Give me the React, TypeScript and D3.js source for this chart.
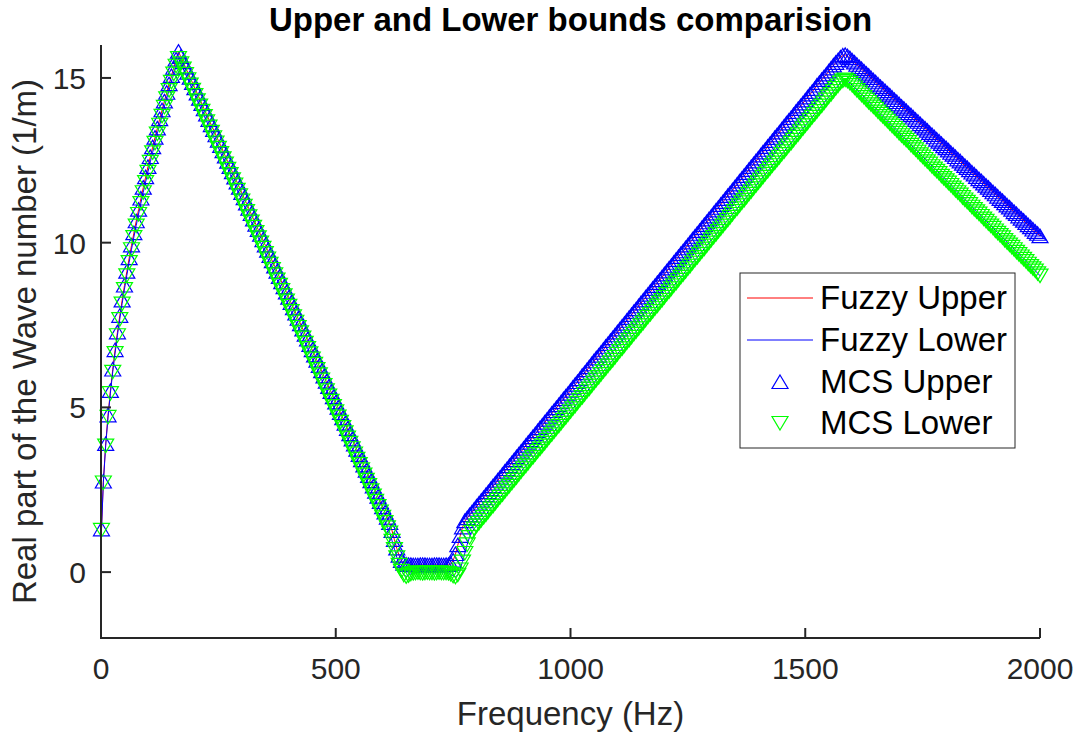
import React from 'react';
import * as d3 from 'd3';

// frequency grid (Hz)
const freqHz = [
  1,
  5, 10, 15, 20, 25, 30, 35, 40, 45, 50, 55, 60, 65, 70, 75, 80, 85, 90, 95, 100,
  105, 110, 115, 120, 125, 130, 135, 140, 145, 150, 155, 160, 165, 170, 175, 180, 185, 190, 195, 200,
  205, 210, 215, 220, 225, 230, 235, 240, 245, 250, 255, 260, 265, 270, 275, 280, 285, 290, 295, 300,
  305, 310, 315, 320, 325, 330, 335, 340, 345, 350, 355, 360, 365, 370, 375, 380, 385, 390, 395, 400,
  405, 410, 415, 420, 425, 430, 435, 440, 445, 450, 455, 460, 465, 470, 475, 480, 485, 490, 495, 500,
  505, 510, 515, 520, 525, 530, 535, 540, 545, 550, 555, 560, 565, 570, 575, 580, 585, 590, 595, 600,
  605, 610, 615, 620, 625, 630, 635, 640, 645, 650, 655, 660, 665, 670, 675, 680, 685, 690, 695, 700,
  705, 710, 715, 720, 725, 730, 735, 740, 745, 750, 755, 760, 765, 770, 775, 780, 785, 790, 795, 800,
  805, 810, 815, 820, 825, 830, 835, 840, 845, 850, 855, 860, 865, 870, 875, 880, 885, 890, 895, 900,
  905, 910, 915, 920, 925, 930, 935, 940, 945, 950, 955, 960, 965, 970, 975, 980, 985, 990, 995, 1000,
  1005, 1010, 1015, 1020, 1025, 1030, 1035, 1040, 1045, 1050, 1055, 1060, 1065, 1070, 1075, 1080, 1085, 1090, 1095, 1100,
  1105, 1110, 1115, 1120, 1125, 1130, 1135, 1140, 1145, 1150, 1155, 1160, 1165, 1170, 1175, 1180, 1185, 1190, 1195, 1200,
  1205, 1210, 1215, 1220, 1225, 1230, 1235, 1240, 1245, 1250, 1255, 1260, 1265, 1270, 1275, 1280, 1285, 1290, 1295, 1300,
  1305, 1310, 1315, 1320, 1325, 1330, 1335, 1340, 1345, 1350, 1355, 1360, 1365, 1370, 1375, 1380, 1385, 1390, 1395, 1400,
  1405, 1410, 1415, 1420, 1425, 1430, 1435, 1440, 1445, 1450, 1455, 1460, 1465, 1470, 1475, 1480, 1485, 1490, 1495, 1500,
  1505, 1510, 1515, 1520, 1525, 1530, 1535, 1540, 1545, 1550, 1555, 1560, 1565, 1570, 1575, 1580, 1585, 1590, 1595, 1600,
  1605, 1610, 1615, 1620, 1625, 1630, 1635, 1640, 1645, 1650, 1655, 1660, 1665, 1670, 1675, 1680, 1685, 1690, 1695, 1700,
  1705, 1710, 1715, 1720, 1725, 1730, 1735, 1740, 1745, 1750, 1755, 1760, 1765, 1770, 1775, 1780, 1785, 1790, 1795, 1800,
  1805, 1810, 1815, 1820, 1825, 1830, 1835, 1840, 1845, 1850, 1855, 1860, 1865, 1870, 1875, 1880, 1885, 1890, 1895, 1900,
  1905, 1910, 1915, 1920, 1925, 1930, 1935, 1940, 1945, 1950, 1955, 1960, 1965, 1970, 1975, 1980, 1985, 1990, 1995, 2000,
];

// real part of wave number, upper bound (1/m)
const fuzzyUpper = [
  // 1 .. 165
  1.30, 2.75, 3.89, 4.76, 5.50, 6.15, 6.74, 7.28, 7.78, 8.25, 8.70, 9.12, 9.53, 9.92, 10.29, 10.65, 11.00,
  11.34, 11.67, 11.99, 12.30, 12.60, 12.90, 13.19, 13.47, 13.75, 14.02, 14.29, 14.55, 14.81, 15.06, 15.31, 15.56, 15.80,
  // 170 .. 615
  15.64, 15.48, 15.32, 15.16, 15.01, 14.85, 14.69, 14.53, 14.37, 14.21,
  14.05, 13.89, 13.73, 13.57, 13.42, 13.26, 13.10, 12.94, 12.78, 12.62,
  12.46, 12.30, 12.14, 11.98, 11.83, 11.67, 11.51, 11.35, 11.19, 11.03,
  10.87, 10.71, 10.55, 10.39, 10.24, 10.08, 9.92, 9.76, 9.60, 9.44,
  9.28, 9.12, 8.96, 8.80, 8.65, 8.49, 8.33, 8.17, 8.01, 7.85,
  7.69, 7.53, 7.37, 7.21, 7.06, 6.90, 6.74, 6.58, 6.42, 6.26,
  6.10, 5.94, 5.78, 5.62, 5.47, 5.31, 5.15, 4.99, 4.83, 4.67,
  4.51, 4.35, 4.19, 4.03, 3.88, 3.72, 3.56, 3.40, 3.24, 3.08,
  2.92, 2.76, 2.60, 2.44, 2.29, 2.13, 1.97, 1.81, 1.65, 1.49,
  // 620 .. 770
  1.25, 0.98, 0.72, 0.50, 0.34, 0.26, 0.23,
  0.22, 0.22, 0.21, 0.21, 0.21, 0.22, 0.22, 0.22, 0.21, 0.21, 0.21, 0.22, 0.22, 0.22, 0.21, 0.21, 0.22, 0.22,
  0.25, 0.35, 0.55, 0.82, 1.10, 1.36,
  // 775 .. 1575
  1.55, 1.64, 1.73, 1.81, 1.90, 1.99, 2.08, 2.17, 2.25, 2.34,
  2.43, 2.52, 2.61, 2.69, 2.78, 2.87, 2.96, 3.05, 3.13, 3.22,
  3.31, 3.40, 3.49, 3.57, 3.66, 3.75, 3.84, 3.93, 4.01, 4.10,
  4.19, 4.28, 4.37, 4.45, 4.54, 4.63, 4.72, 4.81, 4.89, 4.98,
  5.07, 5.16, 5.25, 5.33, 5.42, 5.51, 5.60, 5.69, 5.77, 5.86,
  5.96, 6.04, 6.13, 6.22, 6.31, 6.40, 6.49, 6.57, 6.66, 6.75,
  6.84, 6.93, 7.02, 7.10, 7.19, 7.28, 7.37, 7.46, 7.54, 7.63,
  7.72, 7.81, 7.90, 7.98, 8.07, 8.16, 8.25, 8.34, 8.42, 8.51,
  8.60, 8.69, 8.78, 8.86, 8.95, 9.04, 9.13, 9.22, 9.30, 9.39,
  9.48, 9.57, 9.66, 9.74, 9.83, 9.92, 10.01, 10.10, 10.18, 10.27,
  10.36, 10.45, 10.54, 10.62, 10.71, 10.80, 10.89, 10.98, 11.06, 11.15,
  11.24, 11.33, 11.42, 11.50, 11.59, 11.68, 11.77, 11.86, 11.94, 12.03,
  12.12, 12.21, 12.30, 12.38, 12.47, 12.56, 12.65, 12.74, 12.82, 12.91,
  13.00, 13.09, 13.18, 13.26, 13.35, 13.44, 13.53, 13.62, 13.70, 13.79,
  13.88, 13.97, 14.06, 14.14, 14.23, 14.32, 14.41, 14.50, 14.58, 14.67,
  14.77, 14.85, 14.94, 15.02, 15.11, 15.20, 15.29, 15.38, 15.46, 15.54,
  15.62,
  // 1580 .. 1595
  15.68, 15.70, 15.66, 15.60,
  // 1600 .. 2000
  15.53, 15.47, 15.40, 15.33, 15.27, 15.20, 15.13, 15.07, 15.00, 14.93,
  14.87, 14.80, 14.73, 14.67, 14.60, 14.53, 14.47, 14.40, 14.33, 14.27,
  14.20, 14.13, 14.07, 14.00, 13.93, 13.87, 13.80, 13.73, 13.67, 13.60,
  13.53, 13.47, 13.40, 13.33, 13.27, 13.20, 13.13, 13.07, 13.00, 12.93,
  12.87, 12.80, 12.73, 12.67, 12.60, 12.53, 12.47, 12.40, 12.33, 12.27,
  12.20, 12.13, 12.07, 12.00, 11.93, 11.87, 11.80, 11.73, 11.67, 11.60,
  11.53, 11.47, 11.40, 11.33, 11.27, 11.20, 11.13, 11.07, 11.00, 10.93,
  10.87, 10.80, 10.73, 10.67, 10.60, 10.53, 10.47, 10.40, 10.33, 10.27,
  10.20,
];

// real part of wave number, lower bound (1/m)
const fuzzyLower = [
  // 1 .. 165
  1.28, 2.72, 3.84, 4.71, 5.43, 6.08, 6.65, 7.19, 7.68, 8.15, 8.59, 9.01, 9.41, 9.80, 10.17, 10.52, 10.87,
  11.20, 11.53, 11.84, 12.15, 12.45, 12.74, 13.03, 13.31, 13.58, 13.85, 14.12, 14.38, 14.63, 14.88, 15.13, 15.37, 15.60,
  // 170 .. 615
  15.44, 15.28, 15.12, 14.96, 14.80, 14.64, 14.48, 14.32, 14.16, 14.00,
  13.84, 13.68, 13.52, 13.36, 13.20, 13.04, 12.88, 12.72, 12.56, 12.40,
  12.24, 12.08, 11.92, 11.76, 11.60, 11.44, 11.28, 11.12, 10.96, 10.80,
  10.64, 10.48, 10.32, 10.16, 10.00, 9.84, 9.68, 9.52, 9.36, 9.20,
  9.04, 8.88, 8.72, 8.56, 8.40, 8.24, 8.08, 7.92, 7.76, 7.60,
  7.44, 7.28, 7.12, 6.96, 6.80, 6.64, 6.48, 6.32, 6.16, 6.00,
  5.84, 5.68, 5.52, 5.36, 5.20, 5.04, 4.88, 4.72, 4.56, 4.40,
  4.24, 4.08, 3.92, 3.76, 3.60, 3.44, 3.28, 3.12, 2.96, 2.80,
  2.64, 2.48, 2.32, 2.16, 2.00, 1.84, 1.68, 1.52, 1.36, 1.20,
  // 620 .. 790
  0.95, 0.70, 0.45, 0.22, 0.04, -0.08, -0.13, -0.10, -0.05, -0.03,
  -0.02, -0.01, -0.02, -0.03, -0.02, -0.01, -0.02, -0.02, -0.03, -0.02, -0.01, -0.02, -0.02, -0.02,
  -0.03, -0.06, -0.11, -0.14, -0.08, 0.08, 0.32, 0.58, 0.84, 1.06, 1.22,
  // 795 .. 1575
  1.32, 1.41, 1.49, 1.58, 1.67, 1.75, 1.84, 1.93, 2.01, 2.10,
  2.19, 2.28, 2.36, 2.45, 2.54, 2.62, 2.71, 2.80, 2.88, 2.97,
  3.06, 3.15, 3.23, 3.32, 3.41, 3.49, 3.58, 3.67, 3.75, 3.84,
  3.92, 4.01, 4.10, 4.18, 4.27, 4.36, 4.44, 4.53, 4.62, 4.70,
  4.79, 4.88, 4.97, 5.05, 5.14, 5.23, 5.31, 5.40, 5.49, 5.57,
  5.66, 5.75, 5.84, 5.92, 6.01, 6.10, 6.18, 6.27, 6.36, 6.44,
  6.53, 6.62, 6.71, 6.79, 6.88, 6.97, 7.05, 7.14, 7.23, 7.31,
  7.40, 7.49, 7.57, 7.66, 7.75, 7.83, 7.92, 8.01, 8.09, 8.18,
  8.26, 8.35, 8.44, 8.52, 8.61, 8.70, 8.78, 8.87, 8.96, 9.04,
  9.13, 9.22, 9.30, 9.39, 9.48, 9.56, 9.65, 9.74, 9.82, 9.91,
  10.00, 10.09, 10.17, 10.26, 10.35, 10.43, 10.52, 10.61, 10.69, 10.78,
  10.87, 10.96, 11.04, 11.13, 11.22, 11.30, 11.39, 11.48, 11.56, 11.65,
  11.74, 11.83, 11.91, 12.00, 12.09, 12.17, 12.26, 12.35, 12.43, 12.52,
  12.60, 12.69, 12.77, 12.86, 12.95, 13.03, 13.12, 13.21, 13.29, 13.38,
  13.47, 13.56, 13.64, 13.73, 13.82, 13.90, 13.99, 14.08, 14.16, 14.25,
  14.34, 14.43, 14.51, 14.60, 14.69, 14.77, 14.86,
  // 1580 .. 1595
  14.92, 14.95, 14.91, 14.85,
  // 1600 .. 2000
  14.78, 14.71, 14.63, 14.56, 14.49, 14.42, 14.34, 14.27, 14.20, 14.13,
  14.06, 13.98, 13.91, 13.84, 13.77, 13.70, 13.62, 13.55, 13.48, 13.41,
  13.33, 13.26, 13.19, 13.12, 13.05, 12.97, 12.90, 12.83, 12.76, 12.68,
  12.61, 12.54, 12.47, 12.40, 12.32, 12.25, 12.18, 12.11, 12.03, 11.96,
  11.89, 11.82, 11.75, 11.67, 11.60, 11.53, 11.46, 11.38, 11.31, 11.24,
  11.17, 11.09, 11.02, 10.95, 10.88, 10.81, 10.73, 10.66, 10.59, 10.52,
  10.45, 10.37, 10.30, 10.23, 10.16, 10.08, 10.01, 9.94, 9.87, 9.80,
  9.72, 9.65, 9.58, 9.51, 9.44, 9.36, 9.29, 9.22, 9.15, 9.07,
  9.00,
];

// the MCS samples sit on the fuzzy bounds
const mcsUpper = fuzzyUpper;
const mcsLower = fuzzyLower;

const xTicks = [0, 500, 1000, 1500, 2000];
const yTicks = [0, 5, 10, 15];
const legendLabels = ['Fuzzy Upper', 'Fuzzy Lower', 'MCS Upper', 'MCS Lower'];

const RED = '#ff0000';
const BLUE = '#0000ff';
const GREEN = '#00ff00';
const AXIS = '#262626';
const FONT = "Arial, 'Liberation Sans', Helvetica, sans-serif";

const triUp = 'M0,-7L8,6.5L-8,6.5Z';
const triDown = 'M0,7L8,-6.5L-8,-6.5Z';

const App: React.FC = () => {
  const width = 1082;
  const height = 734;
  const margin = { top: 45, right: 42, bottom: 96, left: 101 };

  const x = d3.scaleLinear().domain([0, 2000]).range([margin.left, width - margin.right]);
  const y = d3.scaleLinear().domain([-2, 16]).range([height - margin.bottom, margin.top]);

  const n = Math.min(freqHz.length, fuzzyUpper.length, fuzzyLower.length);
  const idx = d3.range(n);

  const line = (vals: number[]) =>
    d3.line<number>()
      .x(i => x(freqHz[i]))
      .y(i => y(vals[i]))(idx) || '';

  const x0 = margin.left;
  const x1 = width - margin.right;
  const y0 = height - margin.bottom;
  const y1 = margin.top;

  // legend box
  const lg = { x: 740, y: 273, w: 275, h: 175 };
  const rowY = [298, 340, 382, 423];

  return (
    <svg width={width} height={height} style={{ position: 'absolute', left: 0, top: 0, background: '#fff' }}
      fontFamily={FONT}>
      <rect x={0} y={0} width={width} height={height} fill="#fff" />

      {/* series */}
      <path d={line(fuzzyUpper)} fill="none" stroke={RED} strokeWidth={1} />
      <path d={line(fuzzyLower)} fill="none" stroke={BLUE} strokeWidth={1} />
      <g fill="none" stroke={BLUE} strokeWidth={1.2}>
        {idx.map(i => (
          <path key={i} d={triUp} transform={`translate(${x(freqHz[i])},${y(mcsUpper[i])})`} />
        ))}
      </g>
      <g fill="none" stroke={GREEN} strokeWidth={1.2}>
        {idx.map(i => (
          <path key={i} d={triDown} transform={`translate(${x(freqHz[i])},${y(mcsLower[i])})`} />
        ))}
      </g>

      {/* axes */}
      <g stroke={AXIS} strokeWidth={2} fill="none">
        <line x1={x0} y1={y1} x2={x0} y2={y0 + 1} />
        <line x1={x0 - 1} y1={y0} x2={x1} y2={y0} />
        {xTicks.map(t => (
          <line key={t} x1={x(t)} x2={x(t)} y1={y0} y2={y0 - 10} />
        ))}
        {yTicks.map(t => (
          <line key={t} x1={x0} x2={x0 + 10} y1={y(t)} y2={y(t)} />
        ))}
      </g>
      <g fill={AXIS} fontSize={30}>
        {xTicks.map(t => (
          <text key={t} x={x(t)} y={y0 + 41} textAnchor="middle">{t}</text>
        ))}
        {yTicks.map(t => (
          <text key={t} x={x0 - 15} y={y(t) + 11} textAnchor="end">{t}</text>
        ))}
      </g>

      <text x={(x0 + x1) / 2} y={725} textAnchor="middle" fontSize={33} fill={AXIS}>Frequency (Hz)</text>
      <text transform={`translate(36,${(y0 + y1) / 2}) rotate(-90)`} textAnchor="middle" fontSize={33} fill={AXIS}>
        Real part of the Wave number (1/m)
      </text>
      <text x={(x0 + x1) / 2} y={31} textAnchor="middle" fontSize={33} fontWeight="bold" fill="#000">
        Upper and Lower bounds comparision
      </text>

      {/* legend */}
      <rect x={lg.x} y={lg.y} width={lg.w} height={lg.h} fill="#fff" stroke={AXIS} strokeWidth={1} />
      <line x1={747} x2={813} y1={rowY[0]} y2={rowY[0]} stroke={RED} strokeWidth={1} />
      <line x1={747} x2={813} y1={rowY[1]} y2={rowY[1]} stroke={BLUE} strokeWidth={1} />
      <path d={triUp} transform={`translate(780,${rowY[2]})`} fill="none" stroke={BLUE} strokeWidth={1.2} />
      <path d={triDown} transform={`translate(780,${rowY[3]})`} fill="none" stroke={GREEN} strokeWidth={1.2} />
      <g fontSize={33} fill="#000">
        {legendLabels.map((l, i) => (
          <text key={l} x={820} y={rowY[i] + 11}>{l}</text>
        ))}
      </g>
    </svg>
  );
};

export default App;
